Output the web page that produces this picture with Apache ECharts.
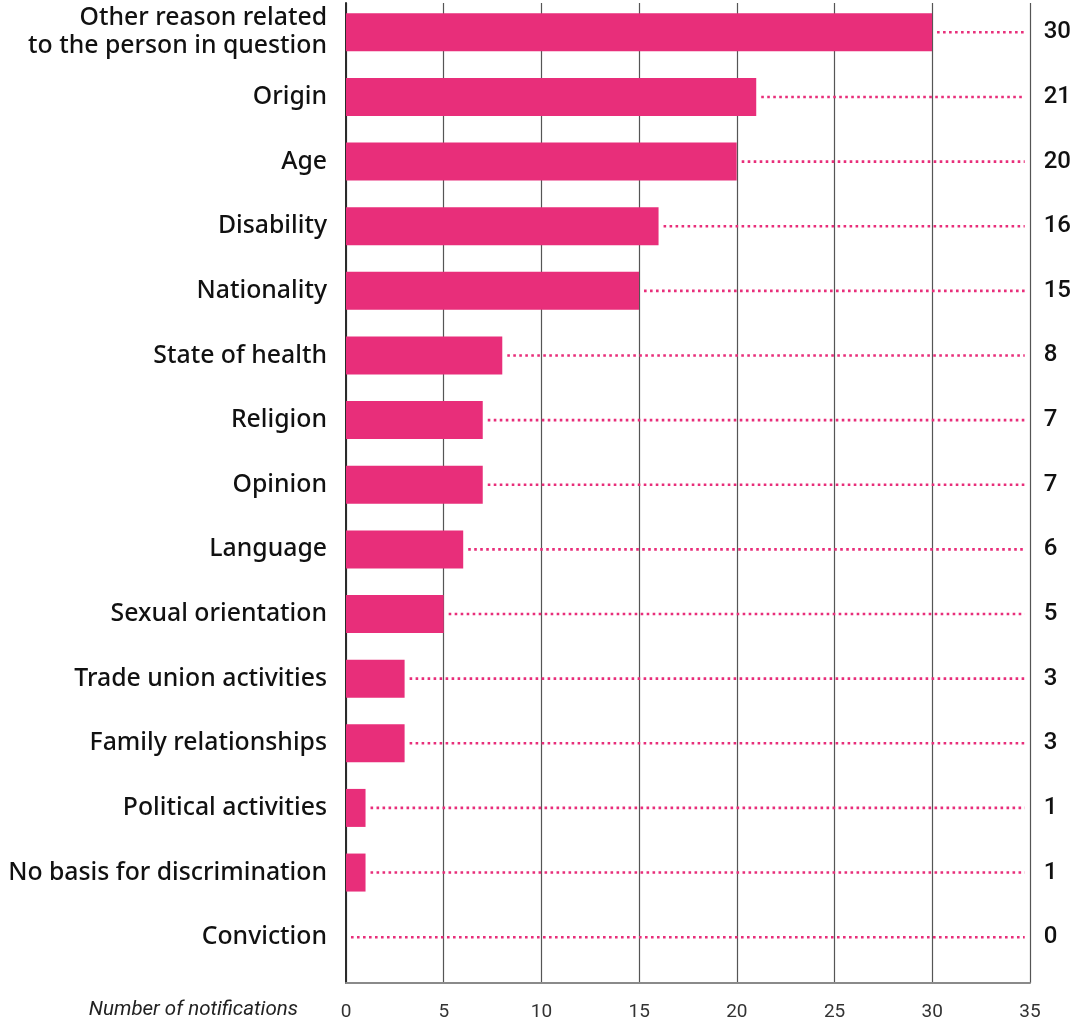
<!DOCTYPE html>
<html>
<head>
<meta charset="utf-8">
<title>Notifications by basis for discrimination</title>
<script src="https://cdn.jsdelivr.net/npm/echarts@6/dist/echarts.min.js"></script>
<style>
  html, body { margin: 0; padding: 0; background: #ffffff; }
  #chart { width: 1074px; height: 1023px; }
</style>
</head>
<body>
<div id="chart"></div>
<script>
// Grounds for discrimination, top to bottom
const categories = [
  'Other reason related\nto the person in question',
  'Origin',
  'Age',
  'Disability',
  'Nationality',
  'State of health',
  'Religion',
  'Opinion',
  'Language',
  'Sexual orientation',
  'Trade union activities',
  'Family relationships',
  'Political activities',
  'No basis for discrimination',
  'Conviction'
];

// Number of notifications per ground
const notifications = [30, 21, 20, 16, 15, 8, 7, 7, 6, 5, 3, 3, 1, 1, 0];

// Value axis ticks
const axisMin = 0;
const axisMax = 35;
const axisStep = 5;

const PINK = '#e82e7a';

const chart = echarts.init(document.getElementById('chart'), null, { renderer: 'canvas' });

const option = {
  animation: false,
  backgroundColor: '#ffffff',
  grid: [
    // bars and category labels
    { left: 346, right: 44, top: 0, height: 969.5, containLabel: false },
    // vertical grid lines and the value axis
    { left: 346, right: 44, top: 3, bottom: 40, containLabel: false }
  ],
  xAxis: [
    {
      gridIndex: 0, type: 'value', min: axisMin, max: axisMax, interval: axisStep,
      show: false
    },
    {
      gridIndex: 1, type: 'value', min: axisMin, max: axisMax, interval: axisStep,
      axisLine: { show: true, lineStyle: { color: '#8a8a8a', width: 2 } },
      axisTick: { show: false },
      splitLine: { show: true, lineStyle: { color: '#555555', width: 1.2 } },
      axisLabel: {
        margin: 20, color: '#333333', fontFamily: 'Roboto', fontSize: 19
      }
    }
  ],
  yAxis: [
    {
      gridIndex: 0, type: 'category', data: categories, inverse: true,
      axisLine: { show: false }, axisTick: { show: false }, splitLine: { show: false },
      axisLabel: {
        margin: 19, color: '#111111', fontFamily: 'Noto Sans', fontWeight: 500,
        fontSize: 24.8, lineHeight: 28, align: 'right', padding: [7, 0, 0, 0]
      }
    },
    {
      gridIndex: 0, type: 'category', data: categories, inverse: true, position: 'right',
      axisLine: { show: false }, axisTick: { show: false }, splitLine: { show: false },
      axisLabel: {
        margin: 14, color: '#111111', fontFamily: 'Roboto', fontWeight: 500,
        fontSize: 24, align: 'left', padding: [4, 0, 0, 0],
        formatter: (val, idx) => String(notifications[idx])
      }
    },
    {
      gridIndex: 1, type: 'value', min: 0, max: 1,
      axisLine: { show: true, onZero: false, lineStyle: { color: '#2b2b2b', width: 2 } },
      axisTick: { show: false }, axisLabel: { show: false }, splitLine: { show: false }
    }
  ],
  graphic: [
    {
      type: 'text', right: 1074 - 298, top: 1000, silent: true,
      style: {
        text: 'Number of notifications', fill: '#222222',
        font: 'italic 20.5px Roboto', textAlign: 'right'
      }
    }
  ],
  series: [
    {
      type: 'bar', xAxisIndex: 0, yAxisIndex: 0,
      data: notifications, barWidth: 38,
      itemStyle: { color: PINK }, z: 3
    },
    {
      // dotted leader from each bar end to the right edge
      type: 'custom', xAxisIndex: 0, yAxisIndex: 0, z: 4,
      data: notifications.map((v, i) => [v, i]),
      renderItem: (params, api) => {
        const start = api.coord([api.value(0), api.value(1)]);
        const end = api.coord([axisMax, api.value(1)]);
        return {
          type: 'line',
          shape: { x1: start[0] + 5, y1: start[1], x2: end[0] - 5, y2: end[1] },
          style: { stroke: PINK, lineWidth: 2.6, lineDash: [2.6, 3.4], fill: null }
        };
      }
    }
  ]
};

chart.setOption(option);
</script>
</body>
</html>
